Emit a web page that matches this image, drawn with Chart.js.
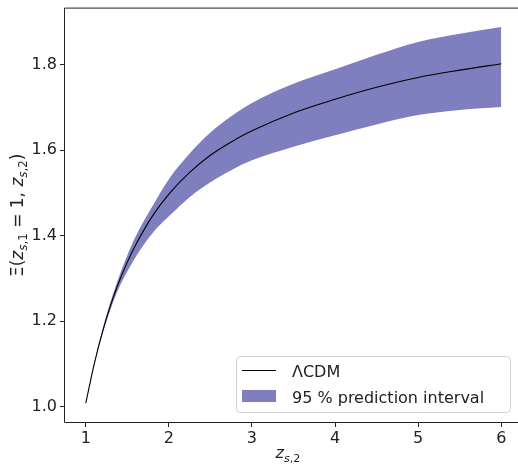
<!DOCTYPE html>
<html>
<head>
<meta charset="utf-8">
<script src="https://cdn.jsdelivr.net/npm/chart.js@4/dist/chart.umd.min.js"></script>
<style>
  html, body { margin: 0; padding: 0; background: #fff; overflow: hidden; }
  #wrap { width: 524px; height: 468px; margin-top: -4px; }
</style>
</head>
<body>
<div id="wrap"><canvas id="grafico" width="524" height="468"></canvas></div>
<script>
// valores
const zValues     = [1.0, 1.05, 1.1, 1.2, 1.3, 1.4, 1.5, 1.6, 1.8, 2.0, 2.25, 2.5, 2.75, 3.0, 3.5, 4.0, 4.5, 5.0, 5.5, 6.0];
const lcdmValues  = [1.008, 1.054, 1.098, 1.174, 1.238, 1.292, 1.338, 1.378, 1.445, 1.497, 1.548, 1.588, 1.619, 1.645, 1.687, 1.719, 1.747, 1.770, 1.787, 1.802];
const upperValues = [1.008, 1.055, 1.100, 1.180, 1.247, 1.304, 1.354, 1.398, 1.468, 1.532, 1.592, 1.641, 1.679, 1.710, 1.755, 1.789, 1.823, 1.853, 1.872, 1.888];
const lowerValues = [1.008, 1.053, 1.096, 1.168, 1.229, 1.278, 1.316, 1.350, 1.405, 1.445, 1.490, 1.525, 1.553, 1.576, 1.608, 1.635, 1.660, 1.682, 1.694, 1.701];
const xTicks = [1, 2, 3, 4, 5, 6];
const yTicks = [1.0, 1.2, 1.4, 1.6, 1.8];
const legendLabels = ['ΛCDM', '95 % prediction interval'];

const pts = (ys) => zValues.map((z, i) => ({ x: z, y: ys[i] }));
const FONT = '"DejaVu Sans", sans-serif';
const corBanda = 'rgba(0, 0, 128, 0.5)';
const OFF = 4; // canvas deslocado 4px para cima

// desenha texto com subscritos (tipo mathtext)
function richText(ctx, segs, x, y, size) {
    let cx = x;
    segs.forEach(s => {
        const fs = s.sub ? size * 0.7 : size;
        ctx.font = `${s.it ? 'italic ' : ''}${fs}px ${FONT}`;
        ctx.fillText(s.t, cx, y + (s.sub ? size * 0.22 : 0));
        cx += ctx.measureText(s.t).width;
    });
    return cx - x;
}
function richWidth(ctx, segs, size) {
    let w = 0;
    segs.forEach(s => {
        const fs = s.sub ? size * 0.7 : size;
        ctx.font = `${s.it ? 'italic ' : ''}${fs}px ${FONT}`;
        w += ctx.measureText(s.t).width;
    });
    return w;
}

const yTitle = [
    { t: 'Ξ(' }, { t: 'z', it: true }, { t: 's', it: true, sub: true }, { t: ',1', sub: true },
    { t: ' = 1, ' }, { t: 'z', it: true }, { t: 's', it: true, sub: true }, { t: ',2', sub: true }, { t: ')' }
];
const xTitle = [{ t: 'z', it: true }, { t: 's', it: true, sub: true }, { t: ',2', sub: true }];

const extras = {
    id: 'extras',
    afterDraw(chart) {
        const ctx = chart.ctx;
        const a = chart.chartArea;
        ctx.save();
        // moldura (o lado direito fica fora da imagem)
        ctx.strokeStyle = '#222';
        ctx.lineWidth = 1;
        ctx.beginPath();
        ctx.moveTo(a.right + 2, a.top - 0.5);
        ctx.lineTo(a.left - 0.5, a.top - 0.5);
        ctx.lineTo(a.left - 0.5, a.bottom + 0.5);
        ctx.lineTo(a.right + 2, a.bottom + 0.5);
        ctx.stroke();

        // títulos dos eixos
        ctx.fillStyle = '#222';
        ctx.textBaseline = 'alphabetic';
        const wx = richWidth(ctx, xTitle, 16);
        richText(ctx, xTitle, 292 - wx / 2 - 4, 458 + OFF, 16);
        ctx.save();
        ctx.translate(23, (a.top + a.bottom) / 2);
        ctx.rotate(-Math.PI / 2);
        const wy = richWidth(ctx, yTitle, 17);
        richText(ctx, yTitle, -wy / 2, 0, 17);
        ctx.restore();

        // legenda
        const bx = 236.5, by = 356.5 + OFF, bw = 274, bh = 56, r = 4;
        ctx.beginPath();
        ctx.roundRect(bx, by, bw, bh, r);
        ctx.fillStyle = 'rgba(255,255,255,0.8)';
        ctx.fill();
        ctx.strokeStyle = '#d0d0d0';
        ctx.stroke();

        const dsLinha = chart.data.datasets[0];
        const dsBanda = chart.data.datasets[2];
        ctx.strokeStyle = dsLinha.borderColor;
        ctx.lineWidth = 1.2;
        ctx.beginPath();
        ctx.moveTo(242, 370.5 + OFF);
        ctx.lineTo(276, 370.5 + OFF);
        ctx.stroke();
        ctx.fillStyle = dsBanda.backgroundColor;
        ctx.fillRect(242, 390 + OFF, 34, 12);

        ctx.fillStyle = '#222';
        ctx.font = `16px ${FONT}`;
        ctx.fillText(legendLabels[0], 292, 377 + OFF);
        ctx.fillText(legendLabels[1], 292, 403 + OFF);
        ctx.restore();
    }
};

new Chart(document.getElementById('grafico').getContext('2d'), {
    type: 'line',
    data: {
        datasets: [
            {
                label: legendLabels[0],
                data: pts(lcdmValues),
                borderColor: '#000',
                borderWidth: 1.1,
                pointRadius: 0,
                fill: false,
                cubicInterpolationMode: 'monotone',
                order: 0
            },
            {
                label: 'lower',
                data: pts(lowerValues),
                borderWidth: 0,
                borderColor: 'rgba(0,0,0,0)',
                pointRadius: 0,
                fill: false,
                cubicInterpolationMode: 'monotone',
                order: 2
            },
            {
                label: legendLabels[1],
                data: pts(upperValues),
                borderWidth: 0,
                borderColor: 'rgba(0,0,0,0)',
                backgroundColor: corBanda,
                pointRadius: 0,
                fill: '-1',
                cubicInterpolationMode: 'monotone',
                order: 1
            }
        ]
    },
    options: {
        responsive: false,
        animation: false,
        layout: { padding: { top: 4, right: 2, left: 0, bottom: 0 } },
        plugins: {
            legend: { display: false },
            tooltip: { enabled: false },
            filler: { propagate: false }
        },
        scales: {
            x: {
                type: 'linear',
                min: 0.75,
                max: 6.25,
                afterBuildTicks: (s) => { s.ticks = xTicks.map(v => ({ value: v })); },
                afterFit: (s) => { s.height = 42; },
                grid: { display: true, drawOnChartArea: false, drawTicks: true, tickLength: 5, color: '#222' },
                border: { display: false },
                ticks: { color: '#222', font: { family: FONT, size: 16 }, padding: 2, maxRotation: 0 }
            },
            y: {
                type: 'linear',
                min: 0.964,
                max: 1.931,
                afterBuildTicks: (s) => { s.ticks = yTicks.map(v => ({ value: v })); },
                afterFit: (s) => { s.width = 65; },
                grid: { display: true, drawOnChartArea: false, drawTicks: true, tickLength: 5, color: '#222' },
                border: { display: false },
                ticks: {
                    color: '#222', font: { family: FONT, size: 16 }, padding: 3,
                    callback: (v) => Number(v).toFixed(1)
                }
            }
        }
    },
    plugins: [extras]
});
</script>
</body>
</html>
